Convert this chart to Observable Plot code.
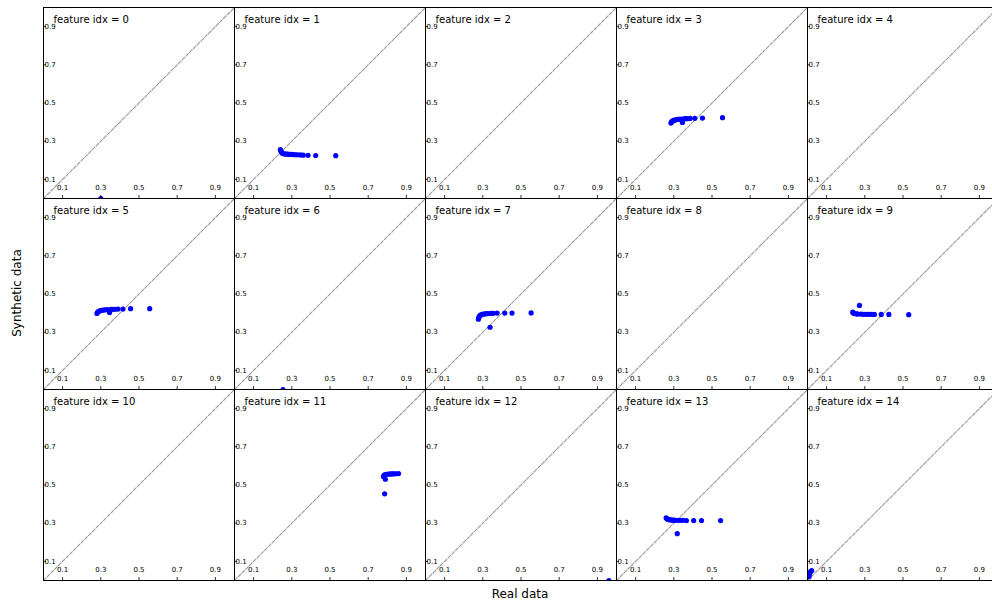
<!DOCTYPE html>
<html><head><meta charset="utf-8">
<script src="https://cdn.jsdelivr.net/npm/d3@7"></script>
<script src="https://cdn.jsdelivr.net/npm/@observablehq/plot@0.6"></script>
<style>
html,body{margin:0;padding:0;overflow:hidden;background:#fff;}
#wrap{position:relative;width:992px;height:605px;overflow:hidden;}
#chart{width:1000px;}
.lab{position:absolute;font-family:"DejaVu Sans";font-size:12px;color:#000;white-space:nowrap;transform:translate(-50%,-50%);}
#xlab{left:520px;top:594px;}
#ylab{left:17px;top:293px;transform:translate(-50%,-50%) rotate(-90deg);}
</style></head><body>
<div id="wrap"><div id="chart"></div>
<div class="lab" id="xlab">Real data</div>
<div class="lab" id="ylab">Synthetic data</div></div>
<script>
// tick values (both axes)
const xTicks = [0.1, 0.3, 0.5, 0.7, 0.9];
const yTicks = [0.1, 0.3, 0.5, 0.7, 0.9];
const identityLine = [0, 1];

// real vs synthetic values per feature
const f0Real = [0.30];  const f0Synth = [0.0];
const f1Real = [0.24, 0.243, 0.247, 0.252, 0.258, 0.265, 0.272, 0.28, 0.29, 0.30, 0.31, 0.32, 0.33, 0.345, 0.36, 0.385, 0.425, 0.53];
const f1Synth = [0.256, 0.248, 0.241, 0.236, 0.234, 0.233, 0.232, 0.232, 0.231, 0.231, 0.230, 0.229, 0.229, 0.228, 0.227, 0.226, 0.225, 0.224];
const f2Real = []; const f2Synth = [];
const f3Real = [0.285, 0.288, 0.292, 0.297, 0.303, 0.31, 0.318, 0.326, 0.335, 0.345, 0.352, 0.36, 0.37, 0.385, 0.41, 0.45, 0.555];
const f3Synth = [0.395, 0.401, 0.405, 0.408, 0.41, 0.412, 0.414, 0.415, 0.416, 0.398, 0.417, 0.418, 0.418, 0.419, 0.42, 0.421, 0.423];
const f4Real = []; const f4Synth = [];
const f5Real = [0.28, 0.283, 0.287, 0.292, 0.298, 0.305, 0.313, 0.322, 0.332, 0.346, 0.352, 0.362, 0.374, 0.39, 0.416, 0.456, 0.556];
const f5Synth = [0.398, 0.404, 0.408, 0.411, 0.413, 0.415, 0.416, 0.417, 0.418, 0.403, 0.419, 0.42, 0.42, 0.421, 0.421, 0.423, 0.423];
const f6Real = [0.254]; const f6Synth = [0.0];
const f7Real = [0.277, 0.279, 0.282, 0.286, 0.291, 0.297, 0.304, 0.312, 0.32, 0.33, 0.338, 0.343, 0.355, 0.375, 0.415, 0.453, 0.553];
const f7Synth = [0.368, 0.376, 0.383, 0.388, 0.391, 0.393, 0.395, 0.396, 0.397, 0.398, 0.326, 0.399, 0.399, 0.40, 0.40, 0.40, 0.401];
const f8Real = []; const f8Synth = [];
const f9Real = [0.237, 0.24, 0.245, 0.25, 0.257, 0.264, 0.272, 0.28, 0.29, 0.30, 0.31, 0.32, 0.335, 0.35, 0.386, 0.426, 0.53];
const f9Synth = [0.405, 0.401, 0.398, 0.397, 0.396, 0.395, 0.44, 0.395, 0.394, 0.394, 0.394, 0.394, 0.393, 0.393, 0.393, 0.393, 0.392];
const f10Real = []; const f10Synth = [];
const f11Real = [0.78, 0.783, 0.787, 0.792, 0.798, 0.805, 0.812, 0.82, 0.828, 0.836, 0.845, 0.859, 0.786, 0.79];
const f11Synth = [0.545, 0.55, 0.553, 0.555, 0.556, 0.557, 0.557, 0.558, 0.558, 0.559, 0.559, 0.56, 0.454, 0.53];
const f12Real = [0.96]; const f12Synth = [0.0];
const f13Real = [0.26, 0.263, 0.267, 0.272, 0.278, 0.285, 0.293, 0.301, 0.31, 0.318, 0.325, 0.335, 0.348, 0.366, 0.404, 0.445, 0.545];
const f13Synth = [0.328, 0.324, 0.321, 0.319, 0.318, 0.317, 0.316, 0.316, 0.315, 0.245, 0.315, 0.315, 0.315, 0.314, 0.314, 0.314, 0.314];
const f14Real = [0.008, 0.01, 0.013, 0.017, 0.022];
const f14Synth = [0.02, 0.032, 0.042, 0.048, 0.052];

const realByFeature = [f0Real,f1Real,f2Real,f3Real,f4Real,f5Real,f6Real,f7Real,f8Real,f9Real,f10Real,f11Real,f12Real,f13Real,f14Real];
const synthByFeature = [f0Synth,f1Synth,f2Synth,f3Synth,f4Synth,f5Synth,f6Synth,f7Synth,f8Synth,f9Synth,f10Synth,f11Synth,f12Synth,f13Synth,f14Synth];

const panels = realByFeature.map((_, i) => ({i, col: i % 5, row: Math.floor(i / 5)}));
const points = panels.flatMap(p => realByFeature[p.i].map((r, j) => ({...p, real: r, synth: synthByFeature[p.i][j]})));
const fmt = d3.format(".1f");

const chart = Plot.plot({
  width: 1000, height: 605,
  marginLeft: 42, marginRight: 0.5, marginTop: 6, marginBottom: 24.5,
  style: {fontFamily: "DejaVu Sans", background: "white", color: "black", maxWidth: "none"},
  fx: {domain: [0,1,2,3,4], padding: 0, axis: null},
  fy: {domain: [0,1,2], padding: 0, axis: null},
  x: {domain: [0, 1]},
  y: {domain: [0, 1]},
  marks: [
    Plot.line(identityLine, {x: d => d, y: d => d, stroke: "#9a9a9a", strokeWidth: 1.1, strokeDasharray: "3.7,1.6", clip: true}),
    Plot.dot(points, {fx: "col", fy: "row", x: "real", y: "synth", r: 2.6, fill: "#0000ff", stroke: "none", clip: true}),
    Plot.axisX(xTicks, {anchor: "bottom", facetAnchor: null, tickSize: -3, fill: "none", stroke: "black", strokeWidth: 0.8, label: null}),
    Plot.axisX(xTicks, {anchor: "bottom", facetAnchor: null, tickSize: 0, tickPadding: 0, dy: -13, fontSize: 7, tickFormat: fmt, fill: "black", label: null}),
    Plot.axisY(yTicks, {anchor: "left", facetAnchor: null, tickSize: -3, fill: "none", stroke: "black", strokeWidth: 0.8, label: null}),
    Plot.axisY(yTicks, {anchor: "left", facetAnchor: null, tickSize: 0, tickPadding: 0, dx: 1, textAnchor: "start", fontSize: 7, tickFormat: fmt, fill: "black", label: null}),
    Plot.frame({stroke: "black", strokeWidth: 1}),
    Plot.text(panels, {fx: "col", fy: "row", text: d => `feature idx = ${d.i}`, frameAnchor: "top-left", dx: 10, dy: 8, fontSize: 10, lineAnchor: "top", fill: "black"})
  ]
});
document.getElementById("chart").appendChild(chart);
</script>
</body></html>
